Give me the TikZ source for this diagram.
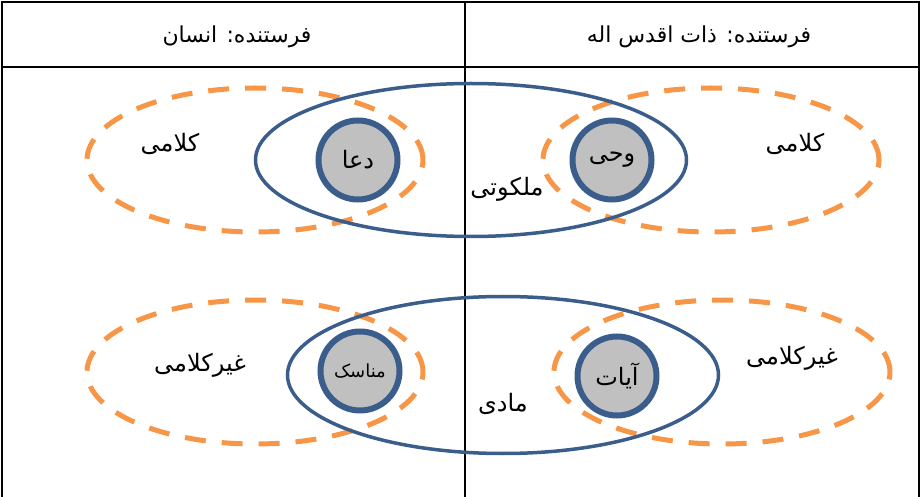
\documentclass[tikz,border=0pt]{standalone}
\usepackage{fontspec}
\newfontfamily\arabicfont[Script=Arabic]{DejaVu Sans}
\TeXXeTstate=1
\usetikzlibrary{shapes.geometric}

\definecolor{fieldorange}{HTML}{F79646}
\definecolor{realmblue}{HTML}{3A5D8B}
\definecolor{signgray}{HTML}{C0C0C0}

\newcommand{\fa}[1]{{\arabicfont\beginR #1\endR}}

\begin{document}
\begin{tikzpicture}[x=1pt, y=-1pt,
    rule/.style={line width=1.8pt},
    field/.style={draw=fieldorange, line width=5pt, dash pattern=on 21pt off 16pt,
        ellipse, inner sep=0pt, minimum width=336pt, minimum height=144pt},
    realm/.style={draw=realmblue, line width=3.5pt, ellipse, inner sep=0pt,
        minimum width=431pt},
    sign/.style={draw=realmblue, fill=signgray, line width=6pt, circle,
        inner sep=0pt, minimum size=79pt, font=\fontsize{24}{28}\selectfont},
    label/.style={font=\fontsize{24}{28}\selectfont},
    head/.style={font=\fontsize{22}{26}\selectfont}]
    \useasboundingbox (0,0) rectangle (922,497);

    % table
    \draw[rule] (2,497) -- (2,2) -- (919,2) -- (919,497);
    \draw[rule] (2,67) -- (919,67);
    \draw[rule] (465,2) -- (465,497);

    \node[head](human) at (237,37){\fa{فرستنده: انسان}};
    \node[head](divine) at (699,37){\fa{فرستنده: ذات اقدس اله}};

    % top row
    \node[field](verbalL) at (255,160){};
    \node[field](verbalR) at (711,160){};
    \node[realm, minimum height=153pt](heavenly) at (471,160){};

    \node[sign](prayer) at (358,160){\fa{دعا}};
    \node[sign](revelation) at (612,160){\fa{وحی}};

    \node[label](verbalLtext) at (170,144){\fa{کلامی}};
    \node[label](verbalRtext) at (795,144){\fa{کلامی}};
    \node[label](heavenlytext) at (507,189){\fa{ملکوتی}};

    % bottom row
    \node[field](nonverbalL) at (255,372){};
    \node[field](nonverbalR) at (722,372){};
    \node[realm, minimum height=157pt](material) at (503,375){};

    \node[sign, font=\fontsize{18}{22}\selectfont](rites) at (360,371){\fa{مناسک}};
    \node[sign](verses) at (617,376){\fa{آیات}};

    \node[label](nonverbalLtext) at (200,365){\fa{غیرکلامی}};
    \node[label](nonverbalRtext) at (792,358){\fa{غیرکلامی}};
    \node[label](materialtext) at (503,404){\fa{مادی}};
\end{tikzpicture}
\end{document}
